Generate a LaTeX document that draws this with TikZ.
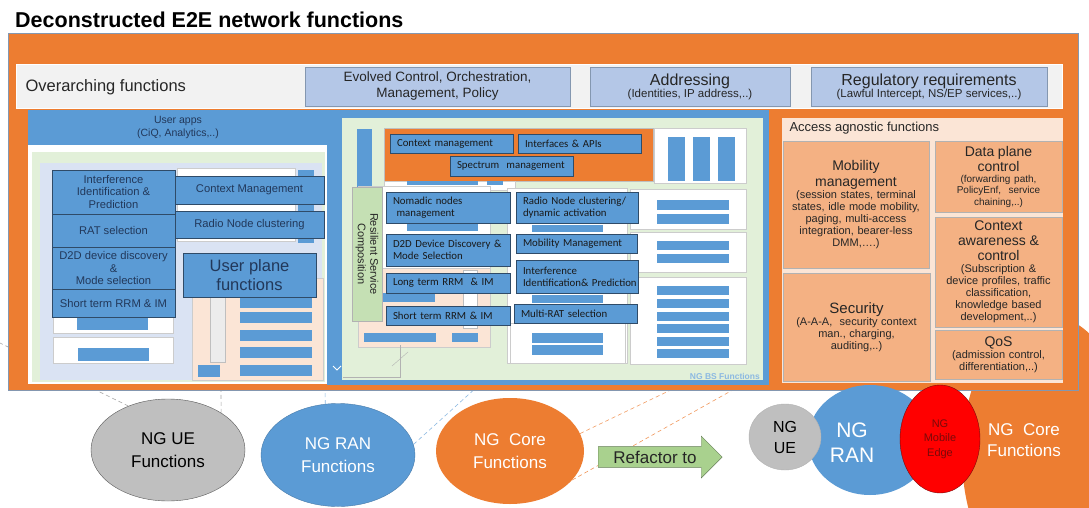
\documentclass[tikz,border=0pt]{standalone}
\usepackage{fontspec}
\setmainfont{Liberation Sans}
\newfontfamily\calfont{Carlito}
\usetikzlibrary{shapes.geometric,shapes.arrows}

\definecolor{ngorange}{HTML}{ED7D31}
\definecolor{ngblue}{HTML}{5B9BD5}
\definecolor{ngdeep}{HTML}{2F4B68}
\definecolor{ngink}{HTML}{22385A}
\definecolor{nglight}{HTML}{B4C7E7}
\definecolor{ngband}{HTML}{F2F2F2}
\definecolor{ngframe}{HTML}{8497B0}
\definecolor{nggreen}{HTML}{E2F0D9}
\definecolor{ngmist}{HTML}{DAE3F3}
\definecolor{ngpeach}{HTML}{FBE5D6}
\definecolor{ngsalmon}{HTML}{F4B183}
\definecolor{ngsage}{HTML}{C5E0B4}
\definecolor{ngarrow}{HTML}{A9D18E}
\definecolor{ngred}{HTML}{FF0000}
\definecolor{ngwine}{HTML}{7A0A0A}
\definecolor{nggray}{HTML}{BFBFBF}

\begin{document}
\begin{tikzpicture}[x=1pt,y=-1pt,
  wh/.style 2 args={minimum width=#1, minimum height=#2},
  topbox/.style={fill=nglight, draw=ngframe, inner sep=0pt, outer sep=0pt, align=center, text=black!85},
  ranbox/.style={fill=ngblue, draw=ngdeep, line width=0.7pt, inner sep=0pt, outer sep=0pt, align=center, text=ngink, font=\fontsize{11.2}{12.7}\selectfont},
  bsbox/.style={fill=ngblue, draw=ngdeep, line width=0.7pt, inner sep=0pt, outer sep=0pt, align=left, text width=#1, text=black!90, font=\calfont\fontsize{10.8}{12.3}\selectfont},
  agnbox/.style={fill=ngsalmon, draw=gray!60, inner sep=0pt, outer sep=0pt, align=center, text width=#1, text=black!85, font=\fontsize{11}{12}\selectfont},
  ghost/.style={fill=white, draw=gray!40, line width=0.4pt},
  bubble/.style={ellipse, inner sep=0pt, align=center, font=\fontsize{17}{23}\selectfont},
  link/.style={dash pattern=on 4pt off 3pt, line width=0.6pt},
]

\path[use as bounding box, fill=white] (0,0) rectangle (1089,508);
\clip (0,0) rectangle (1089,508);

\node[anchor=west, inner sep=0pt, font=\fontsize{21.5}{24}\selectfont\bfseries] (title) at (15,20) {Deconstructed E2E network functions};

% the three function groups
\node[bubble, fill=nggray, draw=gray!70!black, minimum width=154, minimum height=102] (ue) at (168,450) {NG UE\\Functions};
\node[bubble, fill=ngblue, draw=ngblue!80!black, text=white, minimum width=154, minimum height=103] (ran) at (338,455) {NG RAN\\Functions};
\node[bubble, fill=ngorange, text=white, minimum width=148, minimum height=106] (core) at (510,451) {NG~~Core\\Functions};

\coordinate (ueL) at (0,343);
\coordinate (ueR) at (221,385);
\coordinate (ranL) at (325,385);
\coordinate (ranR) at (478,386);
\coordinate (coreA) at (677,387);
\coordinate (coreB) at (738,387);

\draw[link, gray!70] (ue.132) -- (ueL);
\draw[link, gray!70] (ue.35) -- (ueR);
\draw[link, ngblue!70] (ran.104) -- (ranL);
\draw[link, ngblue!70] (ran.8) -- (ranR);
\draw[link, ngorange!80] (core.14) -- (coreA);
\draw[link, ngorange!80] (core.-25) -- (coreB);

\node[ellipse, fill=ngorange, minimum width=170, minimum height=280] (bigcore) at (1047,455) {};

% frame and overarching functions
\draw[fill=ngorange, draw=ngframe] (8,33) rectangle (1078,390);
\draw[fill=ngband, draw=white] (16,64) rectangle (1062,108);
\node[anchor=west, font=\fontsize{16.5}{19}\selectfont, text=black!85] (overarch) at (22,87) {Overarching functions};
\node[topbox, wh={265}{39}, font=\fontsize{13.5}{16}\selectfont] (evolved) at (437.5,86.5) {Evolved Control, Orchestration,\\Management, Policy};
\node[topbox, wh={200}{39}] (address) at (690,86.5) {{\fontsize{16}{18}\selectfont Addressing}\\{\fontsize{11.5}{13}\selectfont (Identities, IP address,..)}};
\node[topbox, wh={236}{39}] (regul) at (929,86.5) {{\fontsize{16}{18}\selectfont Regulatory requirements}\\{\fontsize{11.5}{13}\selectfont (Lawful Intercept, NS/EP services,..)}};

% NG UE functions panel
\fill[white] (28,110) rectangle (328,384);
\node[wh={300}{35}, fill=ngblue, inner sep=0pt, outer sep=0pt, align=center, text=ngink, font=\fontsize{10.5}{13}\selectfont] (userapps) at (178,127.5) {User apps\\(CiQ, Analytics,..)};
\fill[nggreen] (32,152) rectangle (325,382);
\fill[ngmist] (40,163) rectangle (322,380);
\draw[ghost] (177,168) rectangle (295,241);
\fill[ngblue] (298,170) rectangle (314,243);
\draw[ghost] (53,315) rectangle (173,333);
\fill[ngblue] (77,318) rectangle (148,330);
\draw[ghost] (53,337) rectangle (173,363);
\fill[ngblue] (78,348) rectangle (149,361);
\draw[fill=ngpeach, draw=gray!40] (192,278) rectangle (323,380);
\draw[fill=gray!15, draw=gray!50] (210,297) rectangle (225,362);
\fill[ngblue] (198,365) rectangle (220,377);
\foreach \y in {297,312,330,347,365}
    \fill[ngblue] (240,\y) rectangle (312,\y+11);

\node[ranbox, wh={123}{44}] (intf) at (113.5,192) {Interference\\Identification \&\\Prediction};
\node[ranbox, wh={123}{33}] (ratsel) at (113.5,230.5) {RAT selection};
\node[ranbox, wh={123}{42}] (d2d) at (113.5,268) {D2D device discovery\\\&\\Mode selection};
\node[ranbox, wh={123}{28}] (strrm) at (113.5,303) {Short term RRM \& IM};
\node[ranbox, wh={149}{28}] (ctxm) at (249.5,190) {Context Management};
\node[ranbox, wh={149}{27}] (rnc) at (249.5,224.5) {Radio Node clustering};
\node[ranbox, wh={133}{44}, font=\fontsize{16.5}{19}\selectfont] (upf) at (249.5,275) {User plane\\functions};

% NG BS functions panel
\fill[ngblue] (327,110) rectangle (769,385);
\fill[nggreen] (342,118) rectangle (763,380);
\fill[ngblue] (357,129) rectangle (372,187);
\draw[fill=ngorange, draw=gray!50] (384,128) rectangle (653,181);
\draw[ghost] (384,181) rectangle (515,190);
\fill[ngblue] (407,181) rectangle (478,185);
\fill[ngblue] (487,181) rectangle (503,185);

\draw[ghost] (654,128) rectangle (746,183);
\foreach \x in {668,693,718}
    \fill[ngblue] (\x,137) rectangle (\x+17,181);
\draw[ghost] (630,189) rectangle (746,229);
\foreach \y in {200,214}
    \fill[ngblue] (657,\y) rectangle (729,\y+10);
\draw[ghost] (630,232) rectangle (746,272);
\foreach \y in {241,254}
    \fill[ngblue] (657,\y) rectangle (729,\y+9);
\draw[ghost] (630,277) rectangle (746,364);
\foreach \y in {286,299,312,324,337,349}
    \fill[ngblue] (657,\y) rectangle (729,\y+9);

\draw[ghost] (507,188) rectangle (627,363);
\fill[ngblue] (532,225) rectangle (603,232);
\fill[ngblue] (532,295) rectangle (603,303);
\draw[ghost] (510,323) rectangle (625,363);
\foreach \y in {333,345}
    \fill[ngblue] (532,\y) rectangle (603,\y+10);

\draw[ghost] (358,186) rectangle (490,347);
\draw[fill=ngpeach, draw=gray!40] (358,268) rectangle (490,347);
\fill[ngblue] (407,223) rectangle (478,231);
\fill[ngblue] (365,293) rectangle (435,302);
\fill[ngblue] (364,333) rectangle (436,342);
\fill[ngblue] (452,333) rectangle (478,342);
\draw[fill=white, draw=gray!50] (463,270) rectangle (477,328);
\draw[gray!60] (400,345) |- (343,377);
\draw[gray!60] (392,366) -- (408,352);
\draw[white, line width=0.8pt] (333,366) -- (337,370) -- (341,366);
\node[anchor=south east, inner sep=1pt, font=\fontsize{8.5}{10}\selectfont\bfseries, text=ngblue!70] (bslabel) at (761,381) {NG BS Functions};

\node[bsbox=109pt, wh={123}{19}] (ctxman) at (451.5,143.5) {Context management};
\node[bsbox=109pt, wh={123}{19}] (ifapi) at (579.5,143.5) {Interfaces \& APIs};
\node[bsbox=109pt, wh={123}{20}] (spectrum) at (511.5,166) {Spectrum~ management};
\node[bsbox=110pt, wh={124}{31}] (nomadic) at (448,207.5) {Nomadic nodes\\~management};
\node[bsbox=108pt, wh={122}{31}] (rncda) at (577,207.5) {Radio Node clustering/\\dynamic activation};
\node[bsbox=110pt, wh={124}{32}] (d2dms) at (448,250) {D2D Device Discovery \&\\Mode Selection};
\node[bsbox=107pt, wh={121}{19}] (mobman) at (576.5,243.5) {Mobility Management};
\node[bsbox=108pt, wh={122}{33}] (intfpred) at (577,276.5) {Interference\\\mbox{Identification\& Prediction}};
\node[bsbox=110pt, wh={124}{20}] (ltrrm) at (448,283) {Long term RRM~ \& IM};
\node[bsbox=110pt, wh={124}{19}] (strrm2) at (448,315.5) {Short term RRM \& IM};
\node[bsbox=109pt, wh={123}{19}] (mrat) at (575.5,313.5) {Multi-RAT selection};

\node[wh={30}{134}, fill=ngsage, draw=gray!60, inner sep=0pt, outer sep=0pt] (resil) at (367,254) {};
\node[rotate=-90, align=center, font=\fontsize{11}{12.5}\selectfont, text=black!85] (resiltext) at (resil.center) {Resilient Service\\Composition};

% access agnostic functions
\fill[ngpeach] (782,118) rectangle (1063,383);
\node[anchor=west, font=\fontsize{13}{15}\selectfont, text=black!85] (aaf) at (786,128) {Access agnostic functions};
\node[agnbox=144pt, wh={146}{127}] (mobility) at (856,204.5) {{\fontsize{14}{15.5}\selectfont Mobility\\management\par}(session states, terminal\\states, idle mode mobility,\\paging, multi-access\\integration, bearer-less\\DMM,\dots.)};
\node[agnbox=145pt, wh={147}{108}] (security) at (856.5,327) {{\fontsize{15}{16}\selectfont Security\par}(A-A-A,~ security context\\man., charging,\\auditing,..)};
\node[agnbox=125pt, wh={127}{71}] (dataplane) at (998.5,176.5) {{\fontsize{14}{15}\selectfont Data plane\\control\par}\fontsize{10}{11}\selectfont (forwarding path,\\PolicyEnf,~ service\\chaining,..)};
\node[agnbox=125pt, wh={127}{110}] (context) at (998.5,272) {{\fontsize{14}{15}\selectfont Context\\awareness \&\\control\par}(Subscription \&\\device profiles, traffic\\classification,\\knowledge based\\development,..)};
\node[agnbox=125pt, wh={127}{49}] (qos) at (998.5,354.5) {{\fontsize{14}{15}\selectfont QoS\par}(admission control,\\differentiation,..)};

% refactored view
\node[single arrow, fill=ngarrow, draw=ngarrow!60!black, single arrow head extend=10.5pt, minimum height=124, inner xsep=2pt, inner ysep=4pt, anchor=west, font=\fontsize{17}{19}\selectfont, text=black!85] (refactor) at (598,457) {Refactor to};
\node[ellipse, fill=ngblue, minimum width=124, minimum height=110] (nran) at (870,440) {};
\node[align=center, text=white, font=\fontsize{21}{25}\selectfont] (nrantext) at (852,443) {NG\\RAN};
\node[ellipse, fill=nggray, draw=gray!60, minimum width=72, minimum height=66, align=center, inner sep=0pt, font=\fontsize{16}{21}\selectfont] (nue) at (785,437) {NG\\UE};
\node[ellipse, fill=ngred, draw=ngwine, minimum width=80, minimum height=108, align=center, inner sep=0pt, text=ngwine, font=\fontsize{11}{14.5}\selectfont] (edge) at (940,439) {NG\\Mobile\\Edge};
\node[align=center, text=white, font=\fontsize{17}{21}\selectfont] (bigcoretext) at (1024,440) {NG~~Core\\Functions};

\end{tikzpicture}
\end{document}
